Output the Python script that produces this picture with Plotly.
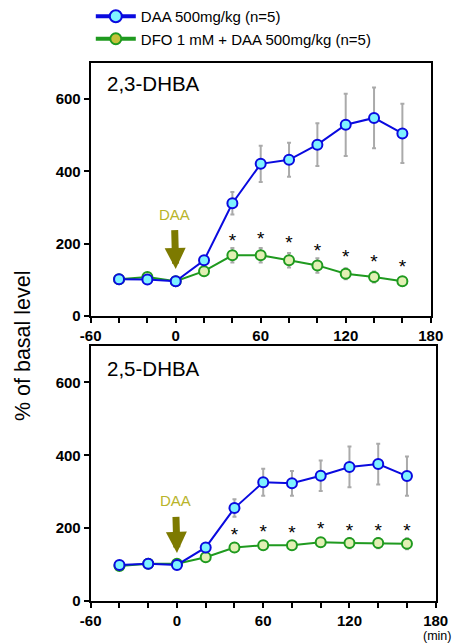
import plotly.graph_objects as go

time = [-40, -20, 0, 20, 40, 60, 80, 100, 120, 140, 160]

# 2,3-DHBA
daa_23 = [102, 101, 96, 154, 312, 421, 432, 474, 529, 548, 505]
daa_23_err = [6, 6, 6, 10, 31, 50, 47, 59, 86, 84, 82]
dfo_23 = [102, 108, 96, 124, 168, 168, 154, 140, 117, 108, 96]
dfo_23_err = [5, 6, 5, 8, 20, 20, 20, 20, 15, 15, 12]
star_23 = [204, 209, 198, 177, 161, 147, 131]

# 2,5-DHBA
daa_25 = [99, 102, 99, 147, 255, 326, 323, 344, 368, 376, 343]
daa_25_err = [5, 5, 5, 8, 24, 37, 34, 42, 56, 56, 54]
dfo_25 = [96, 102, 102, 120, 147, 153, 153, 161, 159, 159, 157]
dfo_25_err = [4, 4, 4, 7, 10, 12, 12, 12, 14, 14, 15]
star_25 = [177, 186, 184, 193, 190, 190, 190]
star_time = [40, 60, 80, 100, 120, 140, 160]

x_ticks = [-60, -40, -20, 0, 20, 40, 60, 80, 100, 120, 140, 160, 180]
x_labels = ["-60", "", "", "0", "", "", "60", "", "", "120", "", "", "180"]
y_ticks = [0, 200, 400, 600]

BLUE = "#0a0adf"
CYAN = "#7ff2ff"
GREEN = "#1f9a1f"
LGREEN = "#e2f0b4"
GRAY = "#aaaaaa"
FONT = "Liberation Sans, Arial, sans-serif"

fig = go.Figure()

panels = [
    ("x", "y", dfo_23, dfo_23_err, daa_23, daa_23_err, star_23),
    ("x2", "y2", dfo_25, dfo_25_err, daa_25, daa_25_err, star_25),
]
for xa, ya, dfo, dfoe, daa, daae, stars in panels:
    fig.add_trace(go.Scatter(
        x=time, y=dfo, xaxis=xa, yaxis=ya, mode="lines+markers", showlegend=False,
        line=dict(color=GREEN, width=2),
        marker=dict(size=10, color=LGREEN, line=dict(color=GREEN, width=2)),
        error_y=dict(type="data", array=dfoe, color=GRAY, thickness=2, width=2)))
    fig.add_trace(go.Scatter(
        x=time, y=daa, xaxis=xa, yaxis=ya, mode="lines+markers", showlegend=False,
        line=dict(color=BLUE, width=2),
        marker=dict(size=10, color=CYAN, line=dict(color=BLUE, width=2)),
        error_y=dict(type="data", array=daae, color=GRAY, thickness=2, width=2)))
    fig.add_trace(go.Scatter(
        x=star_time, y=stars, xaxis=xa, yaxis=ya, mode="text", text=["*"] * len(star_time),
        textfont=dict(size=19, color="black", family=FONT), showlegend=False))

# legend-only entries
fig.add_trace(go.Scatter(
    x=[None], y=[None], mode="lines+markers", name="DAA 500mg/kg (n=5)",
    line=dict(color=BLUE, width=4),
    marker=dict(size=12, color=CYAN, line=dict(color=BLUE, width=2))))
fig.add_trace(go.Scatter(
    x=[None], y=[None], mode="lines+markers", name="DFO 1 mM + DAA 500mg/kg (n=5)",
    line=dict(color=GREEN, width=4),
    marker=dict(size=11, color="#c4c23a", line=dict(color=GREEN, width=2))))

axis_common = dict(
    showline=True, linecolor="black", linewidth=2, mirror=True,
    ticks="outside", ticklen=5, tickwidth=2, tickcolor="black",
    showgrid=False, zeroline=False, automargin=False,
    tickfont=dict(family=FONT, size=15, color="black", weight="bold"),
)

fig.update_layout(
    width=454, height=644,
    margin=dict(l=0, r=0, t=0, b=0, pad=0, autoexpand=False),
    paper_bgcolor="white", plot_bgcolor="white",
    font=dict(family=FONT, color="black"),
    xaxis=dict(domain=[0.1998, 0.9487], range=[-60, 180], tickvals=x_ticks,
               ticktext=x_labels, anchor="y", **axis_common),
    yaxis=dict(domain=[0.5093, 0.9022], range=[0, 700], tickvals=y_ticks,
               anchor="x", **axis_common),
    xaxis2=dict(domain=[0.1998, 0.9597], range=[-60, 180], tickvals=x_ticks,
                ticktext=x_labels, anchor="y2", **axis_common),
    yaxis2=dict(domain=[0.0668, 0.4627], range=[0, 700], tickvals=y_ticks,
                anchor="x2", **axis_common),
    legend=dict(x=0.2, y=1.0, xanchor="left", yanchor="top",
                font=dict(family=FONT, size=15, color="black"),
                bgcolor="rgba(0,0,0,0)", tracegroupgap=0, itemwidth=40),
)

annotations = [
    dict(text="2,3-DHBA", xref="paper", yref="paper", x=0.232, y=0.871,
         xanchor="left", yanchor="middle", showarrow=False,
         font=dict(family=FONT, size=20.5, color="black")),
    dict(text="2,5-DHBA", xref="paper", yref="paper", x=0.232, y=0.428,
         xanchor="left", yanchor="middle", showarrow=False,
         font=dict(family=FONT, size=20.5, color="black")),
    dict(text="% of basal level", xref="paper", yref="paper", x=0.0507, y=0.4627,
         textangle=-90, showarrow=False, xanchor="center", yanchor="middle",
         font=dict(family=FONT, size=21.5, color="black")),
    dict(text="(min)", xref="paper", yref="paper", x=0.995, y=0.0,
         xanchor="right", yanchor="bottom", showarrow=False, borderpad=0,
         font=dict(family=FONT, size=12.5, color="black")),
]
for xr, yr, tip, tail in [("x", "y", 130, 282), ("x2", "y2", 132, 275)]:
    annotations.append(dict(
        text="DAA", x=0, y=tip, xref=xr, yref=yr, ax=-1, ay=tail, axref=xr, ayref=yr,
        showarrow=True, arrowhead=2, arrowsize=0.6, arrowwidth=7, arrowcolor="#7d7a00",
        startstandoff=6,
        font=dict(family=FONT, size=15, color="#b8b42a")))
fig.update_layout(annotations=annotations)

fig.write_html("out.html", config={"displayModeBar": False},
               post_script="document.body.style.margin='0';document.body.style.overflow='hidden';")
